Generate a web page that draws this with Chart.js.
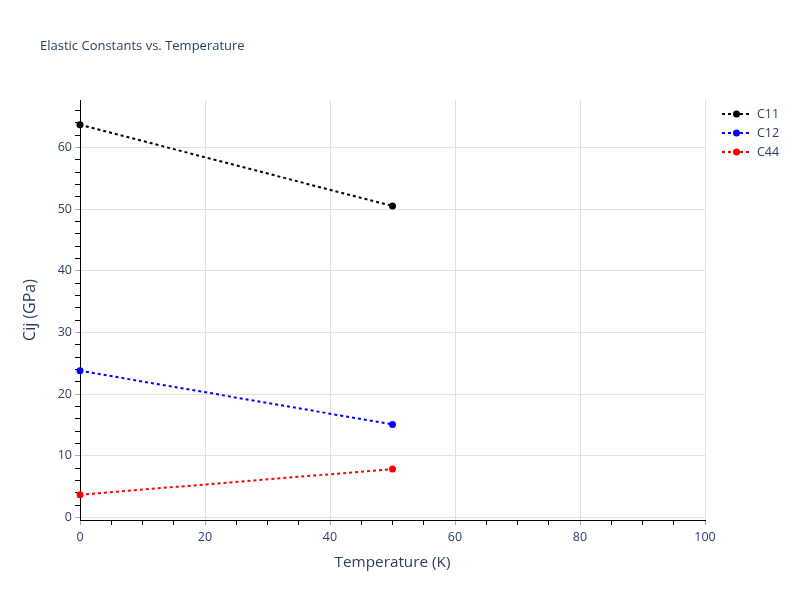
<!DOCTYPE html>
<html>
<head>
<meta charset="utf-8">
<script src="https://cdn.jsdelivr.net/npm/chart.js@4/dist/chart.umd.min.js"></script>
<style>
    html, body { margin: 0; padding: 0; background: #fff; }
    #wrap { width: 800px; height: 600px; }
</style>
</head>
<body>
<div id="wrap"><canvas id="chart" width="800" height="600"></canvas></div>
<script>
const temperatures = [0, 50];
const c11 = [63.7, 50.5];
const c12 = [23.8, 15.1];
const c44 = [3.7, 7.85];
const seriesNames = ["C11", "C12", "C44"];
const seriesColors = ["#000000", "#0000ff", "#ff0000"];

const xTicks = [0, 20, 40, 60, 80, 100];
const yTicks = [0, 10, 20, 30, 40, 50, 60];

const textColor = "#2a3f5f";
const fontFamily = '"Open Sans", "Noto Sans", sans-serif';

function isMajor(list, v) {
    return list.some((t) => Math.abs(t - v) < 1e-6);
}

function makeSeries(i, values) {
    return {
        label: seriesNames[i],
        data: temperatures.map((t, k) => ({ x: t, y: values[k] })),
        borderColor: seriesColors[i],
        backgroundColor: seriesColors[i],
        borderWidth: 2,
        borderDash: [3, 3],
        pointRadius: 3.5,
        pointHoverRadius: 3.5,
        pointBorderWidth: 0,
        clip: false,
    };
}

// small legend + title drawn by hand to sit where the reference has them
const decorations = {
    id: "decorations",
    afterDraw(chart) {
        const ctx = chart.ctx;
        ctx.save();
        ctx.fillStyle = textColor;
        ctx.font = "13px " + fontFamily;
        ctx.textBaseline = "middle";
        ctx.textAlign = "left";
        ctx.fillText("Elastic Constants vs. Temperature", 40, 46);

        chart.data.datasets.forEach((ds, i) => {
            const y = 114 + 19 * i;
            ctx.strokeStyle = ds.borderColor;
            ctx.lineWidth = 2;
            ctx.setLineDash([3, 3]);
            ctx.beginPath();
            ctx.moveTo(722, y);
            ctx.lineTo(751, y);
            ctx.stroke();
            ctx.setLineDash([]);
            ctx.fillStyle = ds.borderColor;
            ctx.beginPath();
            ctx.arc(736.5, y, 3.5, 0, Math.PI * 2);
            ctx.fill();
            ctx.fillStyle = textColor;
            ctx.font = "12.5px " + fontFamily;
            ctx.fillText(ds.label, 757, y);
        });
        ctx.restore();
    },
};

new Chart(document.getElementById("chart"), {
    type: "line",
    data: {
        datasets: [makeSeries(0, c11), makeSeries(1, c12), makeSeries(2, c44)],
    },
    options: {
        responsive: false,
        animation: false,
        layout: { padding: { left: 0, top: 100, right: 95, bottom: 0 } },
        plugins: {
            legend: { display: false },
            title: { display: false },
            tooltip: { enabled: false },
        },
        scales: {
            x: {
                type: "linear",
                min: 0,
                max: 100,
                afterBuildTicks: (axis) => {
                    const ticks = [];
                    for (let v = 0; v <= 100; v += 5) ticks.push({ value: v });
                    axis.ticks = ticks;
                },
                afterFit: (scale) => { scale.height = 80; },
                border: { display: true, color: "#000", width: 1 },
                grid: {
                    color: (c) => (isMajor(xTicks, c.tick.value) ? "#e0e0e0" : "rgba(0,0,0,0)"),
                    tickColor: (c) => (isMajor(xTicks, c.tick.value) ? "#aaaaaa" : "#000"),
                    tickLength: 5,
                    lineWidth: 1,
                },
                ticks: {
                    autoSkip: false,
                    maxRotation: 0,
                    padding: 5,
                    color: textColor,
                    font: { size: 12.5, family: fontFamily },
                    callback: (v) => (isMajor(xTicks, v) ? String(v) : ""),
                },
                title: {
                    display: true,
                    text: "Temperature (K)",
                    color: textColor,
                    font: { size: 15.3, family: fontFamily },
                    padding: { top: 0, bottom: 28 },
                },
            },
            y: {
                type: "linear",
                min: -0.4,
                max: 67.7,
                afterBuildTicks: (axis) => {
                    const ticks = [];
                    for (let v = 0; v <= 66; v += 2) ticks.push({ value: v });
                    axis.ticks = ticks;
                },
                afterFit: (scale) => { scale.width = 80; },
                border: { display: true, color: "#000", width: 1 },
                grid: {
                    color: (c) => (isMajor(yTicks, c.tick.value) ? "#e0e0e0" : "rgba(0,0,0,0)"),
                    tickColor: (c) => (isMajor(yTicks, c.tick.value) ? "#aaaaaa" : "#000"),
                    tickLength: 5,
                    lineWidth: 1,
                },
                ticks: {
                    autoSkip: false,
                    padding: 3,
                    color: textColor,
                    font: { size: 12.5, family: fontFamily },
                    callback: (v) => (isMajor(yTicks, v) ? String(v) : ""),
                },
                title: {
                    display: true,
                    text: "Cij (GPa)",
                    color: textColor,
                    font: { size: 16, family: fontFamily },
                    padding: { top: 21, bottom: 0 },
                },
            },
        },
    },
    plugins: [decorations],
});
</script>
</body>
</html>
